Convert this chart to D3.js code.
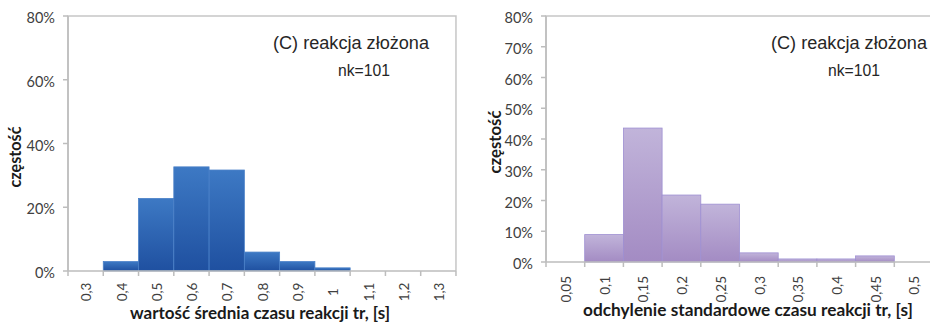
<!DOCTYPE html>
<html><head><meta charset="utf-8">
<script src="https://cdn.jsdelivr.net/npm/d3@7"></script>
<style>body{margin:0;background:#fff}svg{display:block}</style>
</head><body>
<svg id="c" width="930" height="323"></svg>
<script>
// ---- data ----
const meanCategories = ["0,3","0,4","0,5","0,6","0,7","0,8","0,9","1","1,1","1,2","1,3"];
const meanValues = [0, 2.97, 22.77, 32.67, 31.68, 5.94, 2.97, 0.99, 0, 0, 0]; // percent
const meanYTicks = [0, 20, 40, 60, 80];
const sdCategories = ["0,05","0,1","0,15","0,2","0,25","0,3","0,35","0,4","0,45","0,5"];
const sdValues = [0, 8.91, 43.56, 21.78, 18.81, 2.97, 0.99, 0.99, 1.98, 0]; // percent
const sdYTicks = [0, 10, 20, 30, 40, 50, 60, 70, 80];
const annotTitle = "(C) reakcja złożona";
const annotN = "nk=101";
const yTitle = "częstość";
const meanXTitle = "wartość średnia czasu reakcji tr, [s]";
const sdXTitle = "odchylenie standardowe czasu reakcji tr, [s]";

const svg = d3.select("#c");
svg.append("rect").attr("width",930).attr("height",323).attr("fill","#fff");
const defs = svg.append("defs");
function grad(id, c1, c2){
  const g = defs.append("linearGradient").attr("id",id).attr("x1",0).attr("x2",0).attr("y1",0).attr("y2",1);
  g.append("stop").attr("offset","0%").attr("stop-color",c1);
  g.append("stop").attr("offset","100%").attr("stop-color",c2);
}
grad("gBlue","#3d79c4","#1f50a0");
grad("gPurp","#c1b4da","#a38bc3");

const tickFont = "Lato, 'Open Sans', sans-serif";
function fit(sel, w){
  const n = sel.node(); const l = n.getComputedTextLength();
  const fs = parseFloat(sel.attr("font-size"));
  sel.attr("font-size", (fs*w/l).toFixed(2));
}

function chart(o){
  const g = svg.append("g");
  const x = d3.scaleBand().domain(o.cats).range([o.x0, o.x0 + o.bw*o.cats.length]).padding(0);
  const y = d3.scaleLinear().domain([0,80]).range([o.y1, o.y0]);
  // plot border
  g.append("path")
    .attr("d", `M${o.x0},${o.y1}V${o.y0}H${o.x0 + o.bw*o.cats.length}V${o.y1}`)
    .attr("fill","none").attr("stroke","#c6c6c6").attr("stroke-width",1.5);
  // bars
  g.selectAll("rect.bar").data(o.vals.map((v,i)=>({c:o.cats[i],v})).filter(d=>d.v>0))
    .enter().append("rect").attr("class","bar")
    .attr("x", d=>x(d.c)).attr("width", x.bandwidth())
    .attr("y", d=>y(d.v)).attr("height", d=>y(0)-y(d.v))
    .attr("fill", o.fill).attr("stroke", o.stroke).attr("stroke-width",0.8);
  // y axis
  g.append("line").attr("x1",o.x0).attr("x2",o.x0).attr("y1",o.y0).attr("y2",o.y1)
    .attr("stroke","#bdbdbd").attr("stroke-width",1.5);
  o.yt.forEach(t=>{
    g.append("line").attr("x1",o.x0-5).attr("x2",o.x0).attr("y1",y(t)).attr("y2",y(t))
      .attr("stroke","#bdbdbd").attr("stroke-width",1.5);
    g.append("text").attr("x",o.x0-13).attr("y",y(t)+2).attr("dy","0.35em")
      .attr("text-anchor","end").attr("font-family",tickFont).attr("font-size",14.5)
      .attr("fill","#404040").text(t+"%");
  });
  // x axis
  g.append("line").attr("x1",o.x0).attr("x2",Math.min(930,o.x0+o.bw*o.cats.length)).attr("y1",o.y1).attr("y2",o.y1)
    .attr("stroke","#bdbdbd").attr("stroke-width",1.5);
  const bounds = o.cats.map(c=>x(c)).concat([x.range()[1]]);
  bounds.forEach(b=>{
    g.append("line").attr("x1",b).attr("x2",b).attr("y1",o.y1).attr("y2",o.y1+5)
      .attr("stroke","#bdbdbd").attr("stroke-width",1.5);
  });
  o.cats.forEach(c=>{
    const cx = x(c)+x.bandwidth()/2;
    g.append("text").attr("transform",`translate(${cx+1},${o.labY}) rotate(-90)`)
      .attr("text-anchor",o.labAnchor).attr("dy","0.35em")
      .attr("font-family",tickFont).attr("font-size",13.5).attr("fill","#404040").text(c);
  });
  // titles
  const xt = g.append("text").attr("x",o.xtX).attr("y",o.xtY).attr("text-anchor","middle")
    .attr("font-family",tickFont).attr("font-weight","bold").attr("font-size",16)
    .attr("fill","#1a1a1a").text(o.xTitle);
  fit(xt, o.xtW);
  const yt = g.append("text").attr("transform",`translate(${o.ytX},${o.ytY}) rotate(-90)`)
    .attr("text-anchor","middle").attr("dy","0.35em")
    .attr("font-family",tickFont).attr("font-weight","bold").attr("font-size",16)
    .attr("fill","#1a1a1a").text(yTitle);
  fit(yt, o.ytW);
  // annotations
  const a1 = g.append("text").attr("x",o.aX).attr("y",49).attr("font-family","'Liberation Sans', Arial, sans-serif")
    .attr("font-size",17).attr("fill","#262626").text(annotTitle);
  fit(a1, 156);
  const a2 = g.append("text").attr("x",o.nX).attr("y",76).attr("font-family","'Liberation Sans', Arial, sans-serif")
    .attr("font-size",14).attr("fill","#262626").text(annotN);
  fit(a2, 52);
}

chart({cats:meanCategories, vals:meanValues, yt:meanYTicks, x0:68, bw:35.27, y0:16, y1:271,
  fill:"url(#gBlue)", stroke:"#4a80c8", labY:292, labAnchor:"middle",
  xTitle:meanXTitle, xtX:260, xtY:319, xtW:260, ytX:15, ytY:157, ytW:61, aX:273, nX:338});
chart({cats:sdCategories, vals:sdValues, yt:sdYTicks, x0:546, bw:38.7, y0:16, y1:262,
  fill:"url(#gPurp)", stroke:"#9e8fd2", labY:276, labAnchor:"end",
  xTitle:sdXTitle, xtX:748, xtY:316, xtW:330, ytX:495, ytY:142, ytW:63, aX:771, nX:828});
</script>
</body></html>
